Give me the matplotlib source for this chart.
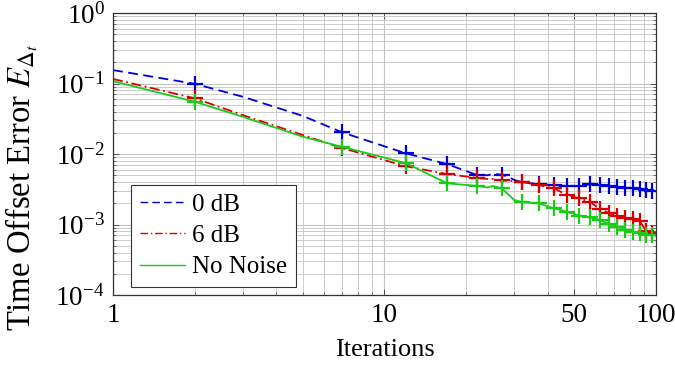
import matplotlib
matplotlib.use("Agg")
import matplotlib.pyplot as plt
from matplotlib.ticker import FixedLocator, NullFormatter, FixedFormatter, LogLocator
import numpy as np

plt.rcParams['font.family'] = ['Liberation Serif', 'DejaVu Serif']
plt.rcParams['mathtext.fontset'] = 'stix'

iterations = [1, 2, 3, 5, 7, 12, 17, 22, 24, 25, 27, 29, 30, 32, 37, 42, 47, 52, 57,
              62, 67, 72, 77, 82, 87, 92, 97, 100]
err_0dB = [0.155, 0.0989, 0.065, 0.0347, 0.0202, 0.0102, 0.0072, 0.0050, 0.0050, 0.0052,
           0.0051, 0.0046, 0.0043, 0.0040, 0.0037, 0.00363, 0.00352, 0.0035, 0.0037,
           0.00363, 0.00352, 0.0034, 0.0033, 0.00325, 0.00319, 0.00309, 0.00300, 0.00295]
err_6dB = [0.116, 0.0617, 0.0357, 0.0186, 0.0121, 0.0067, 0.0052, 0.00457, 0.00442, 0.00442,
           0.00421, 0.00414, 0.00414, 0.00401, 0.00363, 0.00326, 0.00262, 0.00235, 0.00211,
           0.00166, 0.00146, 0.00132, 0.00124, 0.00120, 0.00112, 0.00081, 0.00077, 0.00076]
err_none = [0.108, 0.0552, 0.0338, 0.0176, 0.0126, 0.0074, 0.00384, 0.00352, 0.00335, 0.00352,
            0.00326, 0.00254, 0.00223, 0.00209, 0.00199, 0.0017, 0.00152, 0.00134, 0.00126,
            0.00116, 0.00102, 0.00093, 0.00084, 0.00079, 0.00075, 0.00071, 0.00072, 0.00069]
labels = ['0 dB', '6 dB', 'No Noise']
x_tick_values = [1, 10, 50, 100]
x_tick_labels = ['1', '10', '50', '100']

marker_idx = [i for i, it in enumerate(iterations) if it % 5 == 2]

fig = plt.figure(figsize=(6.75, 3.68), dpi=100)
ax = fig.add_axes([113/675, 1-295/368, (656-113)/675, (295-13)/368])

blue = '#0000dd'
red = '#dd0000'
green = '#18cc18'

common = dict(lw=1.3, marker='+', markevery=marker_idx, markersize=11, markeredgewidth=1.6)
ax.plot(iterations, err_0dB, color=blue, dashes=(5.5, 3), label=labels[0], **common)
ax.plot(iterations, err_6dB, color=red, dashes=(5.5, 2, 1, 2), label=labels[1], **common)
ax.plot(iterations, err_none, color=green, label=labels[2], **common)

ax.set_xscale('log')
ax.set_yscale('log')
ax.set_xlim(1, 100)
ax.set_ylim(1e-4, 1)

ax.xaxis.set_major_locator(FixedLocator(x_tick_values))
ax.xaxis.set_major_formatter(FixedFormatter(x_tick_labels))
minor_x = [v * d for d in (1, 10) for v in range(2, 10) if v * d not in x_tick_values]
ax.xaxis.set_minor_locator(FixedLocator(minor_x))
ax.xaxis.set_minor_formatter(NullFormatter())
ax.yaxis.set_major_locator(LogLocator(base=10, numticks=10))
ax.yaxis.set_minor_locator(LogLocator(base=10, subs=np.arange(2, 10), numticks=20))
ax.yaxis.set_minor_formatter(NullFormatter())

ax.grid(True, which='major', color='#c4c4c4', lw=0.8)
ax.grid(True, which='minor', color='#c4c4c4', lw=0.6)
ax.set_axisbelow(True)

ax.tick_params(which='both', direction='in', top=True, right=True, labelsize=19.5,
               color='#444444')
ax.tick_params(which='major', length=4, width=0.6, pad=6)
ax.tick_params(which='minor', length=2.5, width=0.5)
for s in ax.spines.values():
    s.set_color('#333333')
    s.set_linewidth(0.9)

ax.set_xlabel('Iterations', fontsize=19, labelpad=8)
ax.set_ylabel(r'Time Offset Error $E_{\Delta_t}$', fontsize=23.5)
ax.yaxis.set_label_coords((40 - 113) / 543, (295 - 187) / 282)

leg = ax.legend(loc='lower left', bbox_to_anchor=(18/543, 8/282), fontsize=18,
                frameon=True, fancybox=False, framealpha=1, edgecolor='#333333',
                handlelength=1.8, handletextpad=0.3, borderpad=0.35, labelspacing=0.35,
                borderaxespad=0)
leg.get_frame().set_linewidth(0.8)
for h in leg.get_lines():
    h.set_marker('')
    h.set_linewidth(1.0)

fig.savefig('out.png', dpi=100)
